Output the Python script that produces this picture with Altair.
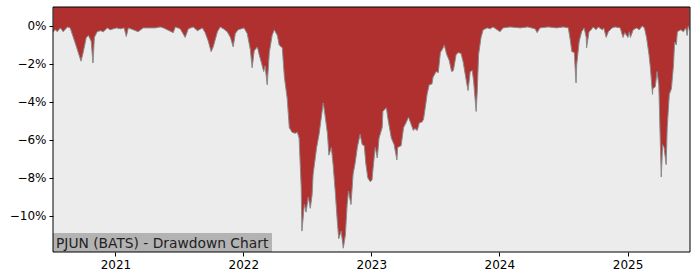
import altair as alt
import pandas as pd

dates = [
    "2020-07-08", "2020-07-14", "2020-07-19", "2020-07-28", "2020-08-05", "2020-08-17", "2020-08-25",
    "2020-09-03", "2020-09-12", "2020-09-17", "2020-09-25", "2020-10-01", "2020-10-10", "2020-10-16",
    "2020-10-24", "2020-10-29", "2020-11-02", "2020-11-10", "2020-11-19", "2020-11-28", "2020-12-09",
    "2020-12-17",
    "2021-01-04", "2021-01-15", "2021-01-26", "2021-02-01", "2021-02-07", "2021-02-21", "2021-03-07",
    "2021-03-21", "2021-04-05", "2021-04-19", "2021-04-25", "2021-05-09", "2021-05-18", "2021-06-15",
    "2021-06-21", "2021-07-05", "2021-07-19", "2021-07-28", "2021-08-11", "2021-08-23", "2021-09-06",
    "2021-09-14", "2021-09-23", "2021-10-01", "2021-10-07", "2021-10-19", "2021-10-27", "2021-11-05",
    "2021-11-16", "2021-11-25", "2021-12-03", "2021-12-09", "2021-12-17",
    "2022-01-03", "2022-01-12", "2022-01-21", "2022-01-26", "2022-02-01", "2022-02-10", "2022-02-15",
    "2022-02-21", "2022-02-28", "2022-03-04", "2022-03-10", "2022-03-16", "2022-03-24", "2022-03-30",
    "2022-04-08", "2022-04-13", "2022-04-22", "2022-04-28", "2022-05-06", "2022-05-12", "2022-05-20",
    "2022-05-29", "2022-06-04", "2022-06-09", "2022-06-15", "2022-06-17", "2022-06-24", "2022-06-29",
    "2022-07-05", "2022-07-11", "2022-07-16", "2022-07-19", "2022-07-29", "2022-08-05", "2022-08-15",
    "2022-08-17", "2022-08-23", "2022-08-29", "2022-09-02", "2022-09-09", "2022-09-14", "2022-09-20",
    "2022-09-26", "2022-09-30", "2022-10-07", "2022-10-13", "2022-10-19", "2022-10-24", "2022-10-28",
    "2022-11-04", "2022-11-10", "2022-11-16", "2022-11-22", "2022-11-30", "2022-12-06", "2022-12-12",
    "2022-12-16", "2022-12-22", "2022-12-29",
    "2023-01-03", "2023-01-06", "2023-01-12", "2023-01-18", "2023-01-23", "2023-02-01", "2023-02-03",
    "2023-02-13", "2023-02-17", "2023-02-27", "2023-03-07", "2023-03-15", "2023-03-17", "2023-03-27",
    "2023-04-03", "2023-04-10", "2023-04-17", "2023-04-25", "2023-05-01", "2023-05-05", "2023-05-12",
    "2023-05-18", "2023-05-26", "2023-05-30", "2023-06-05", "2023-06-09", "2023-06-15", "2023-06-23",
    "2023-06-26", "2023-07-05", "2023-07-11", "2023-07-17", "2023-07-25", "2023-07-28", "2023-08-04",
    "2023-08-11", "2023-08-18", "2023-08-23", "2023-08-31", "2023-09-06", "2023-09-14", "2023-09-20",
    "2023-09-29", "2023-10-04", "2023-10-10", "2023-10-16", "2023-10-20", "2023-10-27", "2023-10-30",
    "2023-11-03", "2023-11-10", "2023-11-16", "2023-11-28", "2023-12-06", "2023-12-14", "2023-12-26",
    "2024-01-03", "2024-01-12", "2024-02-01", "2024-03-01", "2024-03-22", "2024-04-12", "2024-04-18",
    "2024-04-26", "2024-05-20", "2024-06-12", "2024-07-02", "2024-07-16", "2024-07-22", "2024-07-26",
    "2024-08-02", "2024-08-05", "2024-08-07", "2024-08-09", "2024-08-16", "2024-08-23", "2024-08-30",
    "2024-09-05", "2024-09-06", "2024-09-13", "2024-09-19", "2024-09-25", "2024-10-03", "2024-10-09",
    "2024-10-21", "2024-10-25", "2024-11-01", "2024-11-07", "2024-11-18", "2024-11-26", "2024-12-11",
    "2024-12-19", "2024-12-24",
    "2025-01-02", "2025-01-06", "2025-01-09", "2025-01-17", "2025-01-27", "2025-02-03", "2025-02-12",
    "2025-02-18", "2025-02-24", "2025-03-03", "2025-03-07", "2025-03-13", "2025-03-14", "2025-03-21",
    "2025-03-26", "2025-03-31", "2025-04-04", "2025-04-07", "2025-04-11", "2025-04-15", "2025-04-21",
    "2025-04-24", "2025-04-30", "2025-05-06", "2025-05-12", "2025-05-15", "2025-05-20", "2025-05-23",
    "2025-06-02", "2025-06-09", "2025-06-16", "2025-06-20", "2025-06-23", "2025-06-27",
]

drawdown = [
    -0.3, -0.2, -0.3, -0.1, -0.3, -0.05, -0.1,
    -0.6, -1.1, -1.4, -1.85, -1.4, -0.6, -0.5,
    -0.8, -1.95, -0.6, -0.3, -0.25, -0.3, -0.1,
    -0.2,
    -0.1, -0.15, -0.1, -0.55, -0.1, -0.2, -0.3,
    -0.1, -0.1, -0.1, -0.1, -0.05, -0.1, -0.35,
    -0.05, -0.15, -0.6, -0.15, -0.05, -0.25, -0.1,
    -0.35, -0.8, -1.35, -1.1, -0.3, -0.05, -0.15,
    -0.3, -0.6, -1.1, -0.4, -0.2,
    -0.1, -0.4, -1.25, -2.2, -1.3, -1.1, -1.5,
    -1.9, -2.4, -2.1, -3.1, -1.4, -0.5, -0.2,
    -0.5, -1.0, -1.15, -2.7, -3.8, -5.35, -5.6,
    -5.65, -5.6, -5.9, -8.5, -10.8, -9.4, -9.8,
    -9.0, -9.6, -8.9, -7.8, -6.4, -5.7, -4.3,
    -4.05, -4.85, -5.7, -6.8, -6.4, -7.3, -8.7,
    -10.3, -11.2, -10.8, -11.7, -11.0, -9.4, -8.7,
    -9.4, -7.8, -7.2, -6.4, -5.7, -6.25, -6.3,
    -7.2, -8.0, -8.2,
    -8.1, -7.5, -6.4, -6.95, -5.9, -5.35, -4.5,
    -4.3, -4.85, -5.9, -6.25, -7.05, -6.4, -6.3,
    -5.35, -5.1, -4.8, -5.2, -5.5, -5.4, -5.5,
    -5.1, -5.05, -4.9, -4.15, -3.6, -3.1, -3.05,
    -2.7, -2.4, -2.45, -1.4, -1.15, -1.0, -1.5,
    -1.8, -2.4, -2.35, -1.5, -1.4, -1.45, -1.9,
    -2.9, -3.4, -2.4, -2.35, -2.95, -4.5, -3.5,
    -1.5, -0.6, -0.2, -0.1, -0.15, -0.05, -0.2,
    -0.3, -0.1, -0.05, -0.1, -0.05, -0.15, -0.35,
    -0.1, -0.05, -0.1, -0.05, -0.1, -0.8, -1.35,
    -1.4, -2.4, -3.0, -2.0, -0.8, -0.3, -0.1,
    -0.6, -1.15, -0.3, -0.2, -0.05, -0.2, -0.05,
    -0.2, -0.1, -0.6, -0.3, -0.1, -0.05, -0.1,
    -0.6, -0.35,
    -0.6, -0.3, -0.6, -0.2, -0.1, -0.2, 0.0,
    -0.1, -0.6, -1.5, -2.2, -3.6, -3.3, -3.2,
    -2.4, -3.1, -5.9, -7.95, -6.25, -6.4, -7.3,
    -5.35, -3.6, -3.3, -2.05, -0.85, -1.0, -0.3,
    -0.2, -0.3, -0.1, -0.5, 0.0, -0.2,
]

y_ticks = [0, -2, -4, -6, -8, -10]
x_ticks = ["2021-01-01", "2022-01-01", "2023-01-01", "2024-01-01", "2025-01-01"]
title_text = "PJUN (BATS) - Drawdown Chart"
y_top = 1.0

df = pd.DataFrame({"date": pd.to_datetime(dates), "dd": drawdown})

FONT = "DejaVu Sans"

x_enc = alt.X(
    "date:T",
    scale=alt.Scale(domain=["2020-07-07", "2025-06-28"], nice=False),
    axis=alt.Axis(
        values=[pd.Timestamp(t).isoformat() for t in x_ticks],
        format="%Y", title=None, grid=False, domain=False,
        tickColor="black", tickSize=4, tickWidth=1,
        labelFont=FONT, labelFontSize=12, labelColor="black", labelPadding=3,
        labelFlush=False,
    ),
)
y_enc = alt.Y(
    "dd:Q",
    scale=alt.Scale(domain=[-11.9, y_top], nice=False, zero=False),
    axis=alt.Axis(
        values=y_ticks, title=None, grid=False, domain=False,
        labelExpr="datum.value == 0 ? '0%' : '\u2212' + abs(datum.value) + '%'",
        tickColor="black", tickSize=4, tickWidth=1,
        labelFont=FONT, labelFontSize=12, labelColor="black", labelPadding=3,
    ),
)

area = alt.Chart(df).mark_area(color="#b02f2f", opacity=1, clip=True, interpolate="linear").encode(
    x=x_enc, y=y_enc, y2=alt.datum(y_top)
)
line = alt.Chart(df).mark_line(color="#8a8a8a", strokeWidth=1, clip=True).encode(
    x="date:T", y="dd:Q"
)

label_df = pd.DataFrame({"t": [title_text]})
box = alt.Chart(label_df).mark_rect(color="#b3b3b3").encode(
    x=alt.value(0), x2=alt.value(219), y=alt.value(226), y2=alt.value(245)
)
label = alt.Chart(label_df).mark_text(
    align="left", baseline="alphabetic", font=FONT, fontSize=13.8, color="#222222"
).encode(x=alt.value(3), y=alt.value(241), text="t:N")

frame = alt.Chart(label_df).mark_rect(fill=None, stroke="black", strokeWidth=1).encode(
    x=alt.value(0), x2=alt.value(637), y=alt.value(0), y2=alt.value(245)
)

chart = alt.layer(area, line, box, label, frame).properties(
    width=637, height=245,
    background="white",
    padding={"left": 53, "top": 7, "right": 10, "bottom": 28},
    autosize=alt.AutoSizeParams(type="none"),
).configure_view(
    fill="#ececec", stroke=None
)

chart.save("out.html", embed_options={"renderer": "svg", "actions": False})
